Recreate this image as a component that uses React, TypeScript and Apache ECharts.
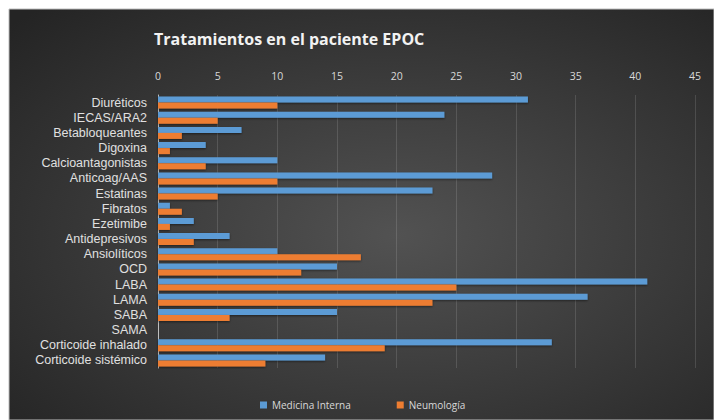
import React, { useEffect, useRef } from "react";
import * as echarts from "echarts";

const categories = [
  "Diuréticos",
  "IECAS/ARA2",
  "Betabloqueantes",
  "Digoxina",
  "Calcioantagonistas",
  "Anticoag/AAS",
  "Estatinas",
  "Fibratos",
  "Ezetimibe",
  "Antidepresivos",
  "Ansiolíticos",
  "OCD",
  "LABA",
  "LAMA",
  "SABA",
  "SAMA",
  "Corticoide inhalado",
  "Corticoide sistémico",
];
const medicinaInterna = [31, 24, 7, 4, 10, 28, 23, 1, 3, 6, 10, 15, 41, 36, 15, 0, 33, 14];
const neumologia = [10, 5, 2, 1, 4, 10, 5, 2, 1, 3, 17, 12, 25, 23, 6, 0, 19, 9];
const seriesNames = ["Medicina Interna", "Neumología"];
const titleText = "Tratamientos en el paciente EPOC";

export default function App() {
  const ref = useRef<HTMLDivElement>(null);
  useEffect(() => {
    if (!ref.current) return;
    const chart = echarts.init(ref.current, null, { renderer: "svg" });
    const font = "'Open Sans', 'Noto Sans', sans-serif";
    const labelFont = "'Liberation Sans', Arial, sans-serif";
    chart.setOption({
      animation: false,
      backgroundColor: "#ffffff",
      graphic: [
        {
          type: "rect",
          z: -10,
          silent: true,
          shape: { x: 9, y: 9, width: 705, height: 411 },
          style: {
            fill: new echarts.graphic.RadialGradient(0.55, 0.55, 0.75, [
              { offset: 0, color: "#525252" },
              { offset: 1, color: "#242424" },
            ]),
            stroke: "#bdbdbd",
            lineWidth: 1,
          },
        },
      ],
      title: {
        text: titleText,
        left: 149,
        top: 26,
        textStyle: {
          color: "#f2f2f2",
          fontSize: 16,
          fontWeight: "bold",
          fontFamily: font,
        },
      },
      legend: {
        data: seriesNames,
        left: 255,
        top: 395,
        itemWidth: 7,
        itemHeight: 7,
        itemGap: 46,
        icon: "rect",
        textStyle: { color: "#d9d9d9", fontSize: 10, fontFamily: font },
      },
      grid: { left: 158, right: 19, top: 95, bottom: 52, containLabel: false },
      xAxis: {
        type: "value",
        position: "top",
        min: 0,
        max: 45,
        interval: 5,
        axisLine: { show: false },
        axisTick: { show: false },
        axisLabel: { color: "#d9d9d9", fontSize: 10.5, margin: 14, fontFamily: font },
        splitLine: { lineStyle: { color: "rgba(255,255,255,0.13)", width: 1 } },
      },
      yAxis: {
        type: "category",
        data: categories,
        inverse: true,
        axisLine: { show: true, lineStyle: { color: "#bfbfbf", width: 1 } },
        axisTick: { show: false },
        axisLabel: {
          color: "#e0e0e0",
          fontSize: 12.5,
          lineHeight: 14,
          margin: 11,
          interval: 0,
          fontFamily: labelFont,
        },
        splitLine: { show: false },
      },
      series: [
        {
          name: seriesNames[0],
          type: "bar",
          data: medicinaInterna,
          barWidth: 6,
          barGap: "0%",
          itemStyle: {
            color: "#5b9bd5",
            shadowColor: "rgba(0,0,0,0.5)",
            shadowBlur: 2,
            shadowOffsetY: 1,
          },
        },
        {
          name: seriesNames[1],
          type: "bar",
          data: neumologia,
          barWidth: 6,
          barGap: "0%",
          itemStyle: {
            color: "#ed7d31",
            shadowColor: "rgba(0,0,0,0.5)",
            shadowBlur: 2,
            shadowOffsetY: 1,
          },
        },
      ],
    });
    return () => chart.dispose();
  }, []);
  return (
    <div
      ref={ref}
      style={{ position: "absolute", left: 0, top: 0, width: 714, height: 420 }}
    />
  );
}
